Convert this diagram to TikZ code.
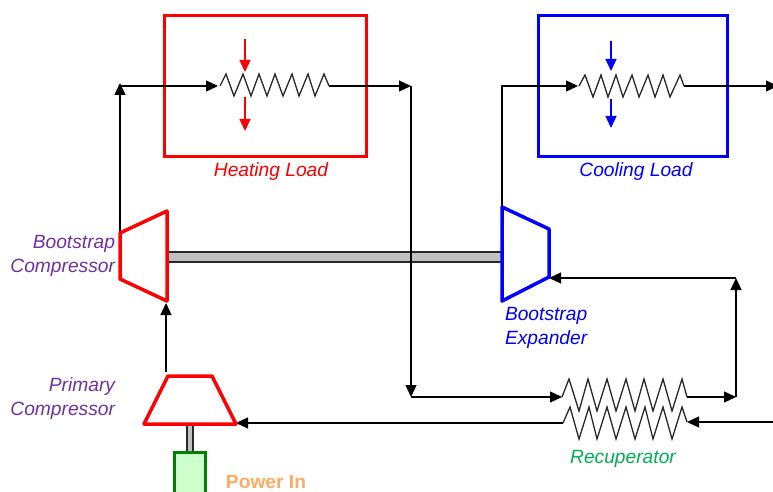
\documentclass[tikz,border=0pt]{standalone}
\usepackage{fontspec}
\setmainfont{Liberation Sans}
\usetikzlibrary{arrows.meta}
\definecolor{color1}{RGB}{255,0,0}
\definecolor{color2}{RGB}{0,0,255}
\definecolor{color3}{RGB}{112,48,160}
\definecolor{color4}{RGB}{0,176,80}
\definecolor{color5}{RGB}{255,170,100}
\definecolor{color6}{RGB}{0,128,0}
\definecolor{color7}{RGB}{204,255,204}
\definecolor{color8}{RGB}{192,192,192}
\definecolor{color9}{RGB}{40,40,40}
\tikzset{
	loadbox/.style={draw, line width=2.8pt, fill=none, inner sep=0pt, outer sep=0pt},
	machine/.style={line width=3.5pt, line join=round},
	shaft/.style={draw=color9, fill=color8, line width=1.2pt, inner sep=0pt, outer sep=0pt},
	flow/.style={color=black, line width=1.3pt, -{Triangle[length=12pt,width=11pt]}},
	heatflow/.style={line width=1.3pt, -{Triangle[length=12pt,width=11pt]}},
	zigzag/.style={color=color9, line width=1.3pt, line join=miter},
	tag/.style={font=\fontsize{19.2}{24}\selectfont\itshape, inner sep=0pt, outer sep=0pt}
}
\begin{document}
\begin{tikzpicture}[x=1pt,y=-1pt]
	\useasboundingbox (0,0) rectangle (773,492);
	\clip (0,0) rectangle (773,492);
	% load boxes
	\node[loadbox, draw=color1, minimum width=202pt, minimum height=141pt] (nHeat) at (265.5,86) {};
	\node[loadbox, draw=color2, minimum width=189pt, minimum height=141pt] (nCool) at (633,86) {};
	\node[tag, text=color1] (nHeatTag) at (271,172) {Heating Load};
	\node[tag, text=color2] (nCoolTag) at (636,172) {Cooling Load};
	% shafts and motor
	\node[shaft, minimum width=334pt, minimum height=10pt] (nShaft) at (335,257) {};
	\node[shaft, minimum width=6pt, minimum height=28pt] (nDrive) at (190,438) {};
	\node[draw=color6, fill=color7, line width=3pt, inner sep=0pt, outer sep=0pt, minimum width=31pt, minimum height=60pt] (nMotor) at (190,482) {};
	% resistors
	\coordinate (hzIn) at (220,86);
	\coordinate (hzOut) at (329,86);
	\draw[zigzag] (hzIn) -- (226,74) -- (234,96) -- (243,74) -- (251,96) -- (259,74) -- (267,96) -- (275,74) -- (283,96) -- (292,74) -- (299,96) -- (308,74) -- (315,96) -- (324,74) -- (hzOut);
	\coordinate (czIn) at (579,86);
	\coordinate (czOut) at (684,86);
	\draw[zigzag] (czIn) -- (585,75) -- (593,97) -- (601,75) -- (608,97) -- (616,75) -- (623,97) -- (632,75) -- (639,97) -- (648,75) -- (655,97) -- (663,75) -- (670,97) -- (680,75) -- (czOut);
	\coordinate (rtIn) at (562,397);
	\coordinate (rtOut) at (687,397);
	\draw[zigzag] (rtIn) -- (569,379) -- (579,411) -- (588,379) -- (597,411) -- (607,379) -- (616,411) -- (626,379) -- (635,411) -- (644,379) -- (653,411) -- (663,379) -- (672,411) -- (682,379) -- (rtOut);
	\coordinate (rbOut) at (563,423);
	\coordinate (rbIn) at (687,422);
	\draw[zigzag] (rbOut) -- (570,407) -- (579,439) -- (589,407) -- (597,439) -- (607,407) -- (616,439) -- (626,407) -- (635,439) -- (645,407) -- (653,439) -- (663,407) -- (672,439) -- (682,407) -- (rbIn);
	% heat arrows
	\draw[heatflow, color1] (245,39) -- (245,72);
	\draw[heatflow, color1] (245,97) -- (245,131);
	\draw[heatflow, color2] (611,41) -- (611,71);
	\draw[heatflow, color2] (611,99) -- (611,128);
	% connectors
	\coordinate (bcA) at (120,233);
	\coordinate (beA) at (502,207);
	\coordinate (cUp) at (120,86);
	\coordinate (cUpTip) at (120,83);
	\coordinate (hzTip) at (218,86);
	\coordinate (czTip) at (578,86);
	\coordinate (cDown) at (411,86);
	\coordinate (cLow) at (411,397);
	\coordinate (cExp) at (502,86);
	\coordinate (cRise) at (736,397);
	\coordinate (cTop) at (736,278);
	\coordinate (cEnd) at (778,86);
	\coordinate (cFeed) at (773,422);
	\coordinate (cPcOut) at (166,372);
	\coordinate (cBcIn) at (166,303);
	\coordinate (cBeIn) at (549,278);
	\coordinate (cPcIn) at (236,423);
	\draw[flow] (bcA) -- (cUpTip);
	\draw[flow] (cUp) -- (hzTip);
	\draw[flow] (hzOut) -- (cDown);
	\draw[flow] (cDown) -- (cLow);
	\draw[flow] (cLow) -- (rtIn);
	\draw[flow] (beA) -- (cExp) -- (czTip);
	\draw[flow] (czOut) -- (cEnd);
	\draw[flow] (rtOut) -- (cRise);
	\draw[flow] (cRise) -- (cTop);
	\draw[flow] (cTop) -- (cBeIn);
	\draw[flow] (cPcOut) -- (cBcIn);
	\draw[flow] (rbOut) -- (cPcIn);
	\draw[flow] (cFeed) -- (rbIn);
	% machines
	\coordinate (bcB) at (167,211);
	\coordinate (bcC) at (167,301);
	\coordinate (bcD) at (120,279);
	\draw[machine, color1] (bcA) -- (bcB) -- (bcC) -- (bcD) -- cycle;
	\coordinate (beB) at (549,229);
	\coordinate (beC) at (549,277);
	\coordinate (beD) at (502,301);
	\draw[machine, color2] (beA) -- (beB) -- (beC) -- (beD) -- cycle;
	\coordinate (pcA) at (168,376);
	\coordinate (pcB) at (212,376);
	\coordinate (pcC) at (236,424);
	\coordinate (pcD) at (144,424);
	\draw[machine, color1] (pcA) -- (pcB) -- (pcC) -- (pcD) -- cycle;
	% labels
	\node[tag, text=color3, align=right, anchor=east] (nBcTag) at (115,256) {Bootstrap\\Compressor};
	\node[tag, text=color3, align=right, anchor=east] (nPcTag) at (115,399) {Primary\\Compressor};
	\node[tag, text=color2, align=left, anchor=west] (nBeTag) at (505,328) {Bootstrap\\Expander};
	\node[tag, text=color4] (nRecTag) at (623,459) {Recuperator};
	\node[tag, text=color5, font=\fontsize{19.2}{24}\selectfont\bfseries] (nPowerTag) at (266,482) {Power In};
\end{tikzpicture}
\end{document}
